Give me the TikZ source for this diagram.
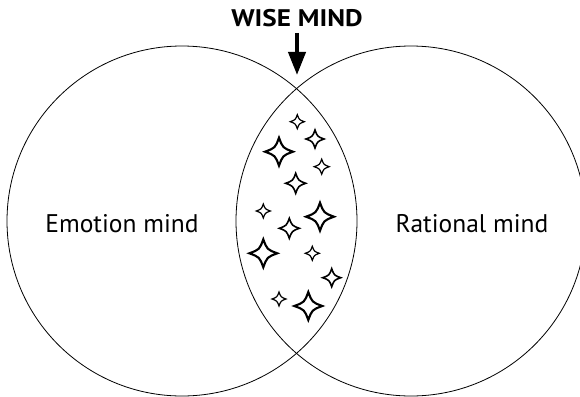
\documentclass[tikz,border=0pt]{standalone}
\usepackage{fontspec}
\setmainfont{PT Sans}
\usetikzlibrary{arrows.meta}
\tikzset{
  mind/.style={circle, draw, line width=0.8pt, minimum size=350pt, inner sep=0pt},
  label/.style={anchor=base, inner sep=0pt, font=\fontsize{25.5pt}{28pt}\selectfont},
  title/.style={anchor=base, inner sep=0pt, font=\fontsize{24pt}{26pt}\selectfont\bfseries},
  bigarrow/.style={line width=4pt, -{Triangle[length=23pt,width=17pt]}},
  sparkle/.pic={
    \draw[line join=miter] (0,#1) .. controls (0.27*#1,0.27*#1) .. (#1,0)
      .. controls (0.27*#1,-0.27*#1) .. (0,-#1)
      .. controls (-0.27*#1,-0.27*#1) .. (-#1,0)
      .. controls (-0.27*#1,0.27*#1) .. cycle;
  },
  big/.style={line width=2.1pt},
  mid/.style={line width=1.6pt},
  small/.style={line width=1.2pt}
}
\begin{document}
\begin{tikzpicture}[x=1pt,y=-1pt]
\useasboundingbox (0,0) rectangle (580,396);
\fill[white] (0,0) rectangle (580,396);
\node[mind] (L) at (182,221) {};
\node[mind] (R) at (411,221) {};
\node[label] (emo) at (122,232) {Emotion mind};
\node[label] (rat) at (472,232) {Rational mind};
\node[title] (wise) at (297,27) {\scalebox{1.13}[1]{WISE MIND}};
\coordinate (atop) at (297,33);
\coordinate (atip) at (297,75);
\draw[bigarrow] (atop) -- (atip);
% sparkles
\pic[small] at (297.3,121.7) {sparkle=7};
\pic[mid] at (315,139) {sparkle=9};
\pic[big] at (279,151.7) {sparkle=14};
\pic[small] at (321.7,166.7) {sparkle=7.5};
\pic[mid] at (295.7,183.3) {sparkle=10};
\pic[small] at (263.3,211) {sparkle=7};
\pic[big] at (320,216.7) {sparkle=14};
\pic[mid] at (289.3,228.3) {sparkle=10};
\pic[big] at (263.3,253.3) {sparkle=14};
\pic[small] at (312.3,253.3) {sparkle=7};
\pic[mid] at (331.7,277.7) {sparkle=9};
\pic[small] at (279,299) {sparkle=7};
\pic[big] at (308.3,306) {sparkle=14};
\end{tikzpicture}
\end{document}
